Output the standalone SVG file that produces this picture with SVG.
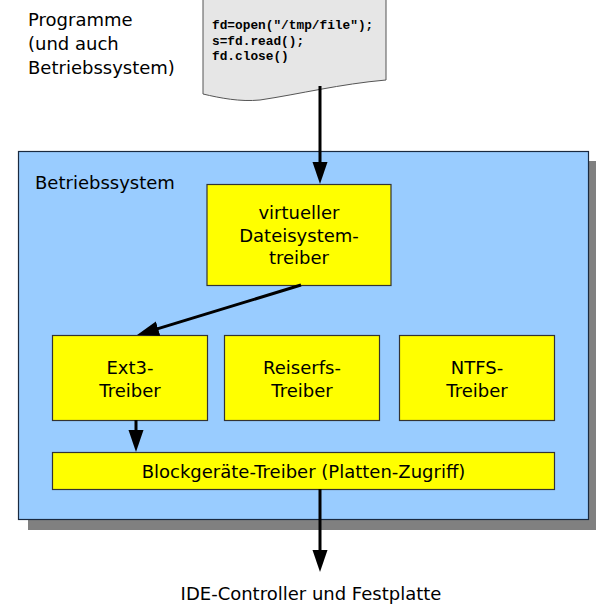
<svg xmlns="http://www.w3.org/2000/svg" width="596" height="605" viewBox="0 0 596 605">
<defs>
<style>
.t{font-family:"DejaVu Sans",Verdana,sans-serif;font-size:18px;fill:#000}
.c{font-family:"Liberation Mono","Courier New",monospace;font-size:12.8px;font-weight:bold;fill:#000}
.box{fill:#ffff00;stroke:#333;stroke-width:1.2}
.con{stroke:#000;stroke-width:3;fill:none}
</style>
<marker id="ah" markerUnits="userSpaceOnUse" markerWidth="24" markerHeight="16" refX="12" refY="7.5" orient="auto">
<path d="M0,0 L22,7.5 L0,15 z" fill="#000"/>
</marker>
</defs>
<rect width="596" height="605" fill="#fff"/>
<g id="caption">
<text class="t" x="28" y="26">Programme</text>
<text class="t" x="28" y="50">(und auch</text>
<text class="t" x="28" y="74">Betriebssystem)</text>
</g>
<g id="program">
<path d="M203,-1 L386,-1 L386,80 C340,84 300,94 260,100 C240,102 220,98 203,94 Z" fill="#e6e6e6" stroke="#555" stroke-width="1"/>
<text class="c" x="212" y="29">fd=open("/tmp/file");</text>
<text class="c" x="212" y="45">s=fd.read();</text>
<text class="c" x="212" y="60">fd.close()</text>
</g>
<g id="os">
<rect x="28" y="161" width="570" height="369" fill="#808080"/>
<rect x="18.5" y="151.5" width="570" height="368" fill="#99ccff" stroke="#1a2a40" stroke-width="1.2"/>
<text class="t" x="35" y="189">Betriebssystem</text>
</g>
<g id="vfs">
<rect class="box" x="207" y="184.5" width="184" height="101"/>
<text class="t" x="299" y="219" text-anchor="middle">virtueller</text>
<text class="t" x="299" y="241.5" text-anchor="middle">Dateisystem-</text>
<text class="t" x="299" y="264" text-anchor="middle">treiber</text>
</g>
<g id="ext3">
<rect class="box" x="52.5" y="335.5" width="155" height="85"/>
<text class="t" x="130" y="374" text-anchor="middle">Ext3-</text>
<text class="t" x="130" y="397" text-anchor="middle">Treiber</text>
</g>
<g id="reiserfs">
<rect class="box" x="224.5" y="335.5" width="155" height="85"/>
<text class="t" x="302" y="374" text-anchor="middle">Reiserfs-</text>
<text class="t" x="302" y="397" text-anchor="middle">Treiber</text>
</g>
<g id="ntfs">
<rect class="box" x="399.5" y="335.5" width="155" height="85"/>
<text class="t" x="477" y="374" text-anchor="middle">NTFS-</text>
<text class="t" x="477" y="397" text-anchor="middle">Treiber</text>
</g>
<g id="block">
<rect class="box" x="52.5" y="452.5" width="502" height="37"/>
<text class="t" x="303.5" y="478" text-anchor="middle">Blockgeräte-Treiber (Platten-Zugriff)</text>
</g>
<g id="ide">
<text class="t" x="311" y="600" text-anchor="middle">IDE-Controller und Festplatte</text>
</g>
<g id="connectors">
<line class="con" x1="320" y1="86" x2="320" y2="174" marker-end="url(#ah)"/>
<line class="con" x1="301" y1="285" x2="146.6" y2="332.1" marker-end="url(#ah)"/>
<line class="con" x1="136" y1="420" x2="136" y2="442" marker-end="url(#ah)"/>
<line class="con" x1="320" y1="489" x2="320" y2="562" marker-end="url(#ah)"/>
</g>
</svg>
